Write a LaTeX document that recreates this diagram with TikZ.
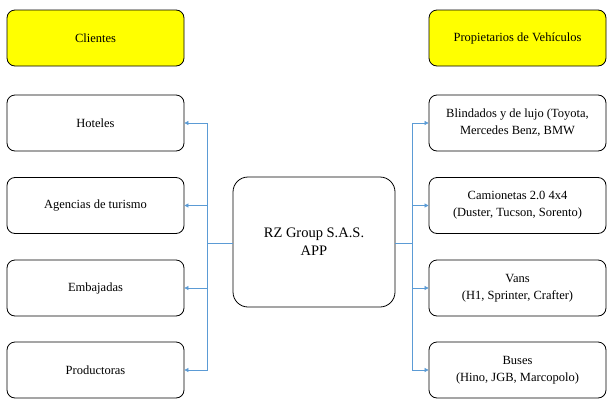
\documentclass[tikz,border=0pt]{standalone}
\usepackage{fontspec}
\setmainfont{Liberation Serif}
\usetikzlibrary{arrows.meta}
\definecolor{conn}{RGB}{91,155,213}
\definecolor{hdr}{RGB}{255,255,0}
\begin{document}
\begin{tikzpicture}[x=1pt,y=-1pt,
  box/.style={draw=black,line width=0.8pt,rounded corners=8pt,minimum width=177pt,minimum height=56pt,align=center,font=\fontsize{12.5}{17}\selectfont,inner sep=0pt},
  hbox/.style={box,fill=hdr},
  cbox/.style={draw=black,line width=0.8pt,rounded corners=15pt,minimum width=162pt,minimum height=130pt,align=center,font=\fontsize{14.5}{18}\selectfont,inner sep=0pt},
  conn/.style={draw=conn,line width=0.7pt},
  arr/.style={conn,-{Triangle[length=4pt,width=4pt]}}]
\useasboundingbox (0,0) rectangle (616,402);
\node[hbox] (cli) at (95.5,38) {Clientes};
\node[box] (hot) at (95.5,123) {Hoteles};
\node[box] (age) at (95.5,205.5) {Agencias de turismo};
\node[box] (emb) at (95.5,288) {Embajadas};
\node[box] (pro) at (95.5,370) {Productoras};
\node[hbox] (prop) at (517.5,38) {Propietarios de Vehículos};
\node[box] (bli) at (517.5,123) {Blindados y de lujo (Toyota,\\Mercedes Benz, BMW};
\node[box] (cam) at (517.5,205.5) {Camionetas 2.0 4x4\\(Duster, Tucson, Sorento)};
\node[box] (van) at (517.5,288) {Vans\\(H1, Sprinter, Crafter)};
\node[box] (bus) at (517.5,370) {Buses\\(Hino, JGB, Marcopolo)};
\node[cbox] (app) at (314,242) {RZ Group S.A.S.\\APP};
\coordinate (lt) at (207.5,123);
\coordinate (lb) at (207.5,370);
\coordinate (lm) at (207.5,243);
\coordinate (rt) at (412,123);
\coordinate (rb) at (412,370);
\coordinate (rm) at (412,243);
\draw[conn] (lt) -- (lb);
\draw[conn] (rt) -- (rb);
\draw[conn] (app.west |- lm) -- (lm);
\draw[conn] (app.east |- rm) -- (rm);
\draw[arr] (lt) -- (hot.east);
\draw[arr] (lt |- age) -- (age.east);
\draw[arr] (lt |- emb) -- (emb.east);
\draw[arr] (lb) -- (pro.east);
\draw[arr] (rt) -- (bli.west);
\draw[arr] (rt |- cam) -- (cam.west);
\draw[arr] (rt |- van) -- (van.west);
\draw[arr] (rb) -- (bus.west);
\end{tikzpicture}
\end{document}
